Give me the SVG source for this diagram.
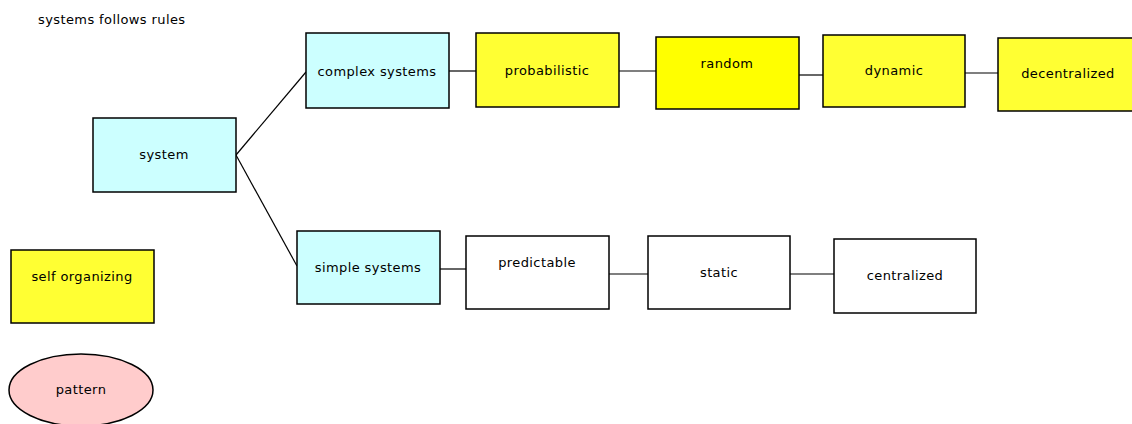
<svg xmlns="http://www.w3.org/2000/svg" width="1132" height="424" viewBox="0 0 1132 424">
<style>
.n{stroke:#000;stroke-width:1.5}
.c{fill:#CCFFFF}
.y{fill:#FFFF33}
.y2{fill:#FFFF00}
.w{fill:#FFFFFF}
.p{fill:#FFCCCC}
text{font-family:"DejaVu Sans",sans-serif;font-size:13px;letter-spacing:0.4px;fill:#000;text-anchor:middle}
.e{stroke:#000;stroke-width:1.2;fill:none}
</style>
<rect width="1132" height="424" fill="#fff"/>
<text x="38" y="24" style="text-anchor:start">systems follows rules</text>
<g id="connectors">
<line class="e" x1="236" y1="155" x2="306" y2="72"/>
<line class="e" x1="236" y1="155" x2="297" y2="266"/>
<line class="e" x1="449" y1="71" x2="476" y2="71"/>
<line class="e" x1="619" y1="71" x2="656" y2="71"/>
<line class="e" x1="799" y1="75" x2="823" y2="75"/>
<line class="e" x1="965" y1="73" x2="998" y2="73"/>
<line class="e" x1="440" y1="269" x2="466" y2="269"/>
<line class="e" x1="609" y1="274" x2="648" y2="274"/>
<line class="e" x1="790" y1="274" x2="834" y2="274"/>
</g>
<g id="system"><rect class="n c" x="93" y="118" width="143" height="74"/><text x="164" y="159">system</text></g>
<g id="complex"><rect class="n c" x="306" y="33" width="143" height="75"/><text x="377" y="76">complex systems</text></g>
<g id="probabilistic"><rect class="n y" x="476" y="33" width="143" height="74"/><text x="547" y="75">probabilistic</text></g>
<g id="random"><rect class="n y2" x="656" y="37" width="143" height="72"/><text x="727" y="68">random</text></g>
<g id="dynamic"><rect class="n y" x="823" y="35" width="142" height="72"/><text x="894" y="75">dynamic</text></g>
<g id="decentralized"><rect class="n y" x="998" y="38" width="140" height="73"/><text x="1068" y="78">decentralized</text></g>
<g id="simple"><rect class="n c" x="297" y="231" width="143" height="73"/><text x="368" y="272">simple systems</text></g>
<g id="predictable"><rect class="n w" x="466" y="236" width="143" height="73"/><text x="537" y="267">predictable</text></g>
<g id="static"><rect class="n w" x="648" y="236" width="142" height="73"/><text x="719" y="277">static</text></g>
<g id="centralized"><rect class="n w" x="834" y="239" width="142" height="74"/><text x="905" y="280">centralized</text></g>
<g id="selforganizing"><rect class="n y" x="11" y="250" width="143" height="73"/><text x="82" y="281">self organizing</text></g>
<g id="pattern"><ellipse class="n p" cx="81" cy="390" rx="72" ry="36"/><text x="81" y="394">pattern</text></g>
</svg>
